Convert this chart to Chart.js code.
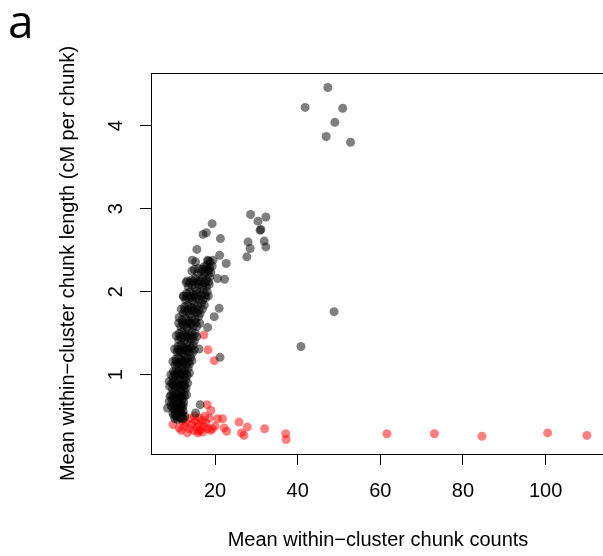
<!DOCTYPE html>
<html>
<head>
<meta charset="utf-8">
<script src="https://cdn.jsdelivr.net/npm/chart.js@4.4.1/dist/chart.umd.min.js"></script>
<style>
html,body{margin:0;padding:0;background:#fff;overflow:hidden;}
canvas{display:block;}
</style>
</head>
<body>
<canvas id="c" width="610" height="556"></canvas>
<script>
// ---- data (x = mean within-cluster chunk counts, y = mean chunk length cM) ----
const blackPoints = [
  // scattered outliers
  [47.3,4.46],[41.8,4.22],[50.9,4.21],[49.0,4.04],[46.9,3.87],[52.8,3.80],[48.8,1.76],[40.8,1.34],
  [28.6,2.93],[30.4,2.85],[32.3,2.90],[30.9,2.74],[31.1,2.75],[28.0,2.60],[31.9,2.61],[32.3,2.54],[28.5,2.52],[27.7,2.42],
  [19.3,2.82],[17.9,2.71],[17.1,2.69],[21.3,2.64],[15.6,2.51],[21.1,2.44],[22.7,2.34],[14.5,2.38],[15.3,2.36],[18.4,2.37],
  [19.5,2.38],[14.4,2.25],[22.3,2.15],[20.6,2.16],[13.2,2.13],[12.4,1.94],[21.0,1.80],[19.8,1.70],[11.3,1.69],[18.2,1.57],
  [16.1,1.31],[21.2,1.21],[8.9,0.92],[8.5,0.60],[16.4,0.64],[15.3,0.54],
  // dense band
  [10.3,0.47],[11.0,0.46],[11.7,0.48],[12.3,0.47],[10.7,0.5],[11.4,0.49],[12.1,0.51],
  [9.8,0.54],[10.4,0.53],[11.1,0.55],[11.7,0.54],[12.3,0.56],[10.1,0.58],[10.8,0.59],[11.5,0.58],[12.1,0.6],
  [9.3,0.63],[9.9,0.65],[10.5,0.64],[11.2,0.66],[11.8,0.64],[12.4,0.67],[9.6,0.7],[10.2,0.71],[10.9,0.7],[11.6,0.72],[12.2,0.71],
  [9.4,0.76],[10.0,0.78],[10.7,0.77],[11.4,0.79],[12.0,0.77],[12.6,0.8],[9.7,0.83],[10.4,0.84],[11.1,0.85],[11.8,0.83],[12.5,0.86],[13.0,0.84],
  [9.5,0.9],[10.1,0.92],[10.8,0.91],[11.5,0.93],[12.2,0.91],[12.9,0.94],[9.8,0.97],[10.5,0.99],[11.2,0.98],[11.9,1.0],[12.6,0.97],[13.3,0.99],
  [9.9,1.04],[10.6,1.06],[11.3,1.05],[12.0,1.07],[12.7,1.05],[13.5,1.08],[10.3,1.12],[11.0,1.13],[11.7,1.11],[12.4,1.14],[13.1,1.12],[13.8,1.13],
  [10.5,1.19],[11.2,1.21],[11.9,1.18],[12.6,1.22],[13.3,1.2],[14.1,1.21],[10.8,1.27],[11.5,1.28],[12.2,1.26],[12.9,1.29],[13.7,1.27],[14.5,1.26],
  [11.0,1.34],[11.7,1.36],[12.4,1.33],[13.1,1.37],[13.9,1.35],[14.7,1.36],[11.2,1.42],[11.9,1.44],[12.6,1.41],[13.4,1.45],[14.2,1.43],[15.0,1.41],
  [11.3,1.5],[12.0,1.52],[12.8,1.49],[13.6,1.53],[14.4,1.51],[15.2,1.5],[11.7,1.58],[12.4,1.6],[13.2,1.57],[14.0,1.61],[14.8,1.59],[15.6,1.58],
  [12.0,1.66],[12.8,1.68],[13.6,1.65],[14.4,1.69],[15.2,1.67],[16.0,1.7],[12.3,1.74],[13.1,1.76],[13.9,1.73],[14.7,1.77],[15.5,1.75],[16.4,1.74],
  [12.6,1.82],[13.4,1.84],[14.2,1.81],[15.0,1.85],[15.8,1.83],[16.7,1.86],[17.4,1.84],[12.9,1.9],[13.7,1.92],[14.5,1.89],[15.3,1.93],[16.1,1.91],[17.0,1.9],[17.8,1.93],
  [13.1,1.98],[13.9,2.0],[14.7,1.97],[15.5,2.01],[16.3,1.99],[17.2,2.02],[18.1,2.0],[13.5,2.06],[14.4,2.08],[15.2,2.05],[16.1,2.09],[17.0,2.07],[17.9,2.06],[18.6,2.09],
  [14.3,2.14],[15.2,2.16],[16.1,2.13],[17.0,2.17],[17.9,2.15],[18.7,2.18],[15.8,2.22],[16.7,2.24],[17.5,2.21],[18.3,2.25],[19.0,2.23],
  [17.3,2.3],[18.0,2.32],[18.7,2.29],[19.3,2.31],[18.2,2.38],[18.8,2.36],
  // dense band, in-between points
  [10.0,0.51],[10.7,0.52],[11.4,0.52],[12.0,0.53],[12.7,0.5],
  [9.6,0.61],[10.3,0.62],[11.0,0.61],[11.6,0.62],[12.3,0.63],[8.9,0.68],
  [9.1,0.74],[9.9,0.74],[10.6,0.73],[11.3,0.75],[11.9,0.74],[12.6,0.74],[13.1,0.76],
  [9.0,0.86],[9.8,0.88],[10.5,0.87],[11.2,0.88],[11.9,0.87],[12.6,0.88],[13.4,0.9],
  [9.3,1.0],[10.2,1.01],[10.9,1.02],[11.6,1.01],[12.3,1.02],[13.0,1.01],[13.8,1.02],
  [9.8,1.16],[10.6,1.16],[11.4,1.15],[12.1,1.16],[12.8,1.17],[13.6,1.16],[14.4,1.17],
  [10.2,1.31],[11.0,1.3],[11.8,1.31],[12.6,1.3],[13.4,1.31],[14.2,1.32],[15.0,1.3],
  [10.6,1.47],[11.5,1.46],[12.3,1.47],[13.1,1.46],[13.9,1.47],[14.7,1.46],[15.6,1.46],
  [11.2,1.62],[12.1,1.63],[12.9,1.62],[13.7,1.63],[14.5,1.62],[15.4,1.63],[16.3,1.62],
  [11.8,1.79],[12.7,1.78],[13.5,1.79],[14.3,1.78],[15.1,1.79],[16.0,1.78],[16.9,1.79],
  [12.3,1.95],[13.2,1.95],[14.1,1.94],[14.9,1.95],[15.8,1.95],[16.7,1.96],[17.6,1.96],[18.4,1.95],
  [13.0,2.11],[13.9,2.11],[14.8,2.12],[15.7,2.11],[16.6,2.12],[17.5,2.11],[18.4,2.12],
  [15.0,2.27],[16.0,2.28],[16.9,2.27],[17.8,2.27],[18.6,2.26]
];
const redPoints = [
  [17.3,1.48],[18.3,1.30],[19.8,1.17],[18.1,0.64],[19.0,0.57],[20.6,0.47],[21.8,0.47],[22.2,0.36],[22.8,0.32],
  [25.8,0.43],[27.8,0.37],[26.4,0.30],[27.0,0.27],[32.0,0.35],[37.1,0.29],[37.2,0.22],
  [61.6,0.29],[73.1,0.29],[84.6,0.26],[100.5,0.30],[110.0,0.27],
  [11.3,0.36],[9.8,0.40],[13.3,0.30],[12.5,0.38],[13.0,0.42],[13.8,0.35],[14.3,0.40],[14.8,0.33],[15.2,0.44],
  [15.6,0.37],[16.0,0.41],[16.1,0.32],[16.5,0.34],[16.9,0.45],[17.3,0.38],[17.8,0.42],[18.2,0.35],[18.6,0.48],
  [14.0,0.47],[15.0,0.50],[16.2,0.48],[17.0,0.31],[15.8,0.30],[19.3,0.35],[18.9,0.33],[12.2,0.45],[11.8,0.33],
  [20.0,0.38],[17.5,0.50]
];
const xTickValues = [20, 40, 60, 80, 100];
const yTickValues = [1, 2, 3, 4];
const xTitle = "Mean within\u2212cluster chunk counts";
const yTitle = "Mean within\u2212cluster chunk length (cM per chunk)";
const panelLabel = "a";

const FONT = "'Liberation Sans', Arial, sans-serif";

const toXY = arr => arr.map(p => ({x: p[0], y: p[1]}));

const decor = {
  id: 'decor',
  afterDraw(chart) {
    const ctx = chart.ctx;
    const a = chart.chartArea;
    const ys = chart.scales.y;
    ctx.save();
    // frame
    ctx.strokeStyle = '#000';
    ctx.lineWidth = 1;
    ctx.strokeRect(a.left + 0.5, a.top + 0.5, a.right - a.left, a.bottom - a.top);
    // y tick labels (rotated, like R)
    ctx.fillStyle = '#000';
    ctx.font = "20px " + FONT;
    ctx.textAlign = 'center';
    ctx.textBaseline = 'middle';
    yTickValues.forEach(v => {
      const py = ys.getPixelForValue(v);
      ctx.save();
      ctx.translate(116, py);
      ctx.rotate(-Math.PI / 2);
      ctx.fillText(String(v), 0, 0);
      ctx.restore();
    });
    // y title
    ctx.save();
    ctx.translate(68, (a.top + a.bottom) / 2);
    ctx.rotate(-Math.PI / 2);
    ctx.fillText(yTitle, 0, 0);
    ctx.restore();
    // x title
    ctx.fillText(xTitle, 378, 540);
    // panel letter
    ctx.font = "46px 'Open Sans', 'Noto Sans', sans-serif";
    ctx.textAlign = 'left';
    ctx.textBaseline = 'alphabetic';
    ctx.fillText(panelLabel, 8, 38);
    ctx.restore();
  }
};

new Chart(document.getElementById('c'), {
  type: 'scatter',
  data: {
    datasets: [
      {
        label: 'other',
        data: toXY(blackPoints),
        backgroundColor: 'rgba(0,0,0,0.5)',
        borderWidth: 0,
        pointRadius: 4.5,
        pointHoverRadius: 4.5
      },
      {
        label: 'flagged',
        data: toXY(redPoints),
        backgroundColor: 'rgba(255,0,0,0.5)',
        borderWidth: 0,
        pointRadius: 4.5,
        pointHoverRadius: 4.5
      }
    ]
  },
  options: {
    responsive: false,
    animation: false,
    devicePixelRatio: 1,
    layout: { padding: { left: 0, top: 73, right: 3, bottom: 0 } },
    plugins: { legend: { display: false }, tooltip: { enabled: false } },
    scales: {
      x: {
        type: 'linear',
        min: 4.5,
        max: 114.5,
        afterBuildTicks: s => { s.ticks = xTickValues.map(v => ({ value: v })); },
        afterFit: s => { s.height = 102; },
        grid: { drawOnChartArea: false, drawTicks: true, tickLength: 11, color: '#000', lineWidth: 1 },
        border: { display: false },
        ticks: { color: '#000', font: { family: FONT, size: 20 }, padding: 14, maxRotation: 0, autoSkip: false }
      },
      y: {
        type: 'linear',
        min: 0.046,
        max: 4.634,
        afterBuildTicks: s => { s.ticks = yTickValues.map(v => ({ value: v })); },
        afterFit: s => { s.width = 151; },
        grid: { drawOnChartArea: false, drawTicks: true, tickLength: 11, color: '#000', lineWidth: 1 },
        border: { display: false },
        ticks: { display: false }
      }
    }
  },
  plugins: [decor]
});
</script>
</body>
</html>
